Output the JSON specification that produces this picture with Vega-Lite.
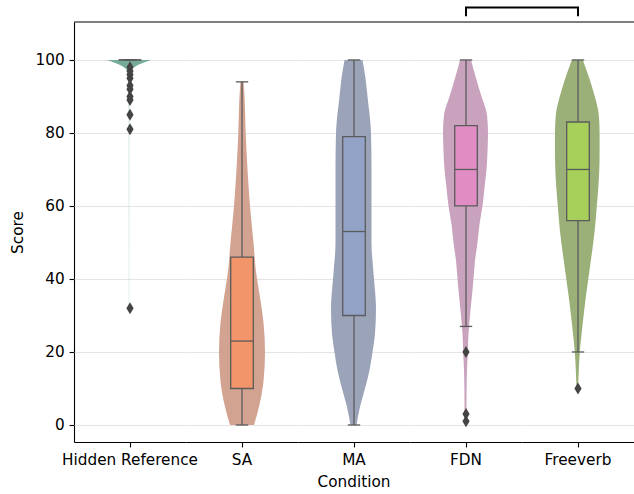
{
  "$schema": "https://vega.github.io/schema/vega-lite/v6.json",
  "padding": {"left": 10, "top": 6, "right": 0, "bottom": 3},
  "bounds": "flush",
  "config": {
    "font": "DejaVu Sans",
    "view": {"stroke": null},
    "axis": {"labelFont": "DejaVu Sans", "titleFont": "DejaVu Sans", "labelFontSize": 15.28, "titleFontSize": 15.28, "labelColor": "#000000", "titleColor": "#000000", "titleFontWeight": "normal", "tickColor": "#000000", "domainColor": "#000000", "tickSize": 4.9, "tickWidth": 1.1, "domainWidth": 1.1},
    "header": {"labelFont": "DejaVu Sans", "titleFont": "DejaVu Sans", "labelFontSize": 15.28, "titleFontSize": 15.28, "labelColor": "#000000", "titleColor": "#000000", "titleFontWeight": "normal"}
  },
  "data": {"values": [
    {"kind": "violin", "Condition": "Hidden Reference", "Score": 100, "Width": 44},
    {"kind": "violin", "Condition": "Hidden Reference", "Score": 99.3, "Width": 30},
    {"kind": "violin", "Condition": "Hidden Reference", "Score": 98.5, "Width": 16},
    {"kind": "violin", "Condition": "Hidden Reference", "Score": 97.5, "Width": 6},
    {"kind": "violin", "Condition": "Hidden Reference", "Score": 96, "Width": 1.5},
    {"kind": "violin", "Condition": "Hidden Reference", "Score": 90, "Width": 0.5},
    {"kind": "violin", "Condition": "Hidden Reference", "Score": 80, "Width": 0.3},
    {"kind": "violin", "Condition": "Hidden Reference", "Score": 32, "Width": 0.2},

    {"kind": "violin", "Condition": "SA", "Score": 94, "Width": 3},
    {"kind": "violin", "Condition": "SA", "Score": 90, "Width": 5},
    {"kind": "violin", "Condition": "SA", "Score": 80, "Width": 7.4},
    {"kind": "violin", "Condition": "SA", "Score": 70, "Width": 11},
    {"kind": "violin", "Condition": "SA", "Score": 60, "Width": 16},
    {"kind": "violin", "Condition": "SA", "Score": 50, "Width": 23},
    {"kind": "violin", "Condition": "SA", "Score": 42, "Width": 28},
    {"kind": "violin", "Condition": "SA", "Score": 35, "Width": 36},
    {"kind": "violin", "Condition": "SA", "Score": 28, "Width": 43},
    {"kind": "violin", "Condition": "SA", "Score": 20, "Width": 46},
    {"kind": "violin", "Condition": "SA", "Score": 12, "Width": 43},
    {"kind": "violin", "Condition": "SA", "Score": 5, "Width": 34},
    {"kind": "violin", "Condition": "SA", "Score": 0, "Width": 24},

    {"kind": "violin", "Condition": "MA", "Score": 100, "Width": 18},
    {"kind": "violin", "Condition": "MA", "Score": 95, "Width": 24},
    {"kind": "violin", "Condition": "MA", "Score": 90, "Width": 28},
    {"kind": "violin", "Condition": "MA", "Score": 80, "Width": 35},
    {"kind": "violin", "Condition": "MA", "Score": 70, "Width": 36},
    {"kind": "violin", "Condition": "MA", "Score": 60, "Width": 36},
    {"kind": "violin", "Condition": "MA", "Score": 50, "Width": 36},
    {"kind": "violin", "Condition": "MA", "Score": 40, "Width": 41},
    {"kind": "violin", "Condition": "MA", "Score": 32, "Width": 45},
    {"kind": "violin", "Condition": "MA", "Score": 25, "Width": 43},
    {"kind": "violin", "Condition": "MA", "Score": 20, "Width": 38},
    {"kind": "violin", "Condition": "MA", "Score": 15, "Width": 32},
    {"kind": "violin", "Condition": "MA", "Score": 10, "Width": 23},
    {"kind": "violin", "Condition": "MA", "Score": 5, "Width": 13},
    {"kind": "violin", "Condition": "MA", "Score": 0, "Width": 6},

    {"kind": "violin", "Condition": "FDN", "Score": 100, "Width": 11},
    {"kind": "violin", "Condition": "FDN", "Score": 95, "Width": 21},
    {"kind": "violin", "Condition": "FDN", "Score": 90, "Width": 32},
    {"kind": "violin", "Condition": "FDN", "Score": 85, "Width": 43},
    {"kind": "violin", "Condition": "FDN", "Score": 80, "Width": 45},
    {"kind": "violin", "Condition": "FDN", "Score": 75, "Width": 44},
    {"kind": "violin", "Condition": "FDN", "Score": 70, "Width": 42},
    {"kind": "violin", "Condition": "FDN", "Score": 65, "Width": 38},
    {"kind": "violin", "Condition": "FDN", "Score": 60, "Width": 34},
    {"kind": "violin", "Condition": "FDN", "Score": 55, "Width": 28},
    {"kind": "violin", "Condition": "FDN", "Score": 50, "Width": 24},
    {"kind": "violin", "Condition": "FDN", "Score": 45, "Width": 19},
    {"kind": "violin", "Condition": "FDN", "Score": 40, "Width": 16},
    {"kind": "violin", "Condition": "FDN", "Score": 35, "Width": 12.6},
    {"kind": "violin", "Condition": "FDN", "Score": 30, "Width": 9},
    {"kind": "violin", "Condition": "FDN", "Score": 25, "Width": 6},
    {"kind": "violin", "Condition": "FDN", "Score": 20, "Width": 4.6},
    {"kind": "violin", "Condition": "FDN", "Score": 15, "Width": 3},
    {"kind": "violin", "Condition": "FDN", "Score": 10, "Width": 2.2},
    {"kind": "violin", "Condition": "FDN", "Score": 5, "Width": 2},
    {"kind": "violin", "Condition": "FDN", "Score": 1, "Width": 2},

    {"kind": "violin", "Condition": "Freeverb", "Score": 100, "Width": 11},
    {"kind": "violin", "Condition": "Freeverb", "Score": 95, "Width": 24},
    {"kind": "violin", "Condition": "Freeverb", "Score": 90, "Width": 35},
    {"kind": "violin", "Condition": "Freeverb", "Score": 85, "Width": 43},
    {"kind": "violin", "Condition": "Freeverb", "Score": 80, "Width": 44.6},
    {"kind": "violin", "Condition": "Freeverb", "Score": 75, "Width": 44.6},
    {"kind": "violin", "Condition": "Freeverb", "Score": 70, "Width": 44},
    {"kind": "violin", "Condition": "Freeverb", "Score": 65, "Width": 42},
    {"kind": "violin", "Condition": "Freeverb", "Score": 60, "Width": 39},
    {"kind": "violin", "Condition": "Freeverb", "Score": 55, "Width": 36},
    {"kind": "violin", "Condition": "Freeverb", "Score": 50, "Width": 32},
    {"kind": "violin", "Condition": "Freeverb", "Score": 45, "Width": 27},
    {"kind": "violin", "Condition": "Freeverb", "Score": 40, "Width": 22},
    {"kind": "violin", "Condition": "Freeverb", "Score": 35, "Width": 17},
    {"kind": "violin", "Condition": "Freeverb", "Score": 30, "Width": 12.6},
    {"kind": "violin", "Condition": "Freeverb", "Score": 25, "Width": 8.6},
    {"kind": "violin", "Condition": "Freeverb", "Score": 20, "Width": 5},
    {"kind": "violin", "Condition": "Freeverb", "Score": 15, "Width": 3},
    {"kind": "violin", "Condition": "Freeverb", "Score": 10, "Width": 1.6},

    {"kind": "box", "Condition": "Hidden Reference", "Q1": 100, "Median": 100, "Q3": 100, "Low": 100, "High": 100},
    {"kind": "box", "Condition": "SA", "Q1": 10, "Median": 23, "Q3": 46, "Low": 0, "High": 94},
    {"kind": "box", "Condition": "MA", "Q1": 30, "Median": 53, "Q3": 79, "Low": 0, "High": 100},
    {"kind": "box", "Condition": "FDN", "Q1": 60, "Median": 70, "Q3": 82, "Low": 27, "High": 100},
    {"kind": "box", "Condition": "Freeverb", "Q1": 56, "Median": 70, "Q3": 83, "Low": 20, "High": 100},

    {"kind": "outlier", "Condition": "Hidden Reference", "Score": 98},
    {"kind": "outlier", "Condition": "Hidden Reference", "Score": 97},
    {"kind": "outlier", "Condition": "Hidden Reference", "Score": 96},
    {"kind": "outlier", "Condition": "Hidden Reference", "Score": 95},
    {"kind": "outlier", "Condition": "Hidden Reference", "Score": 93},
    {"kind": "outlier", "Condition": "Hidden Reference", "Score": 92},
    {"kind": "outlier", "Condition": "Hidden Reference", "Score": 90},
    {"kind": "outlier", "Condition": "Hidden Reference", "Score": 89},
    {"kind": "outlier", "Condition": "Hidden Reference", "Score": 85},
    {"kind": "outlier", "Condition": "Hidden Reference", "Score": 81},
    {"kind": "outlier", "Condition": "Hidden Reference", "Score": 32},
    {"kind": "outlier", "Condition": "FDN", "Score": 20},
    {"kind": "outlier", "Condition": "FDN", "Score": 3},
    {"kind": "outlier", "Condition": "FDN", "Score": 1},
    {"kind": "outlier", "Condition": "Freeverb", "Score": 10}
  ]},
  "facet": {
    "column": {
      "field": "Condition", "type": "nominal",
      "sort": ["Hidden Reference", "SA", "MA", "FDN", "Freeverb"],
      "header": {"labelOrient": "bottom", "titleOrient": "bottom", "title": "Condition", "labelPadding": 6, "titlePadding": -4}
    }
  },
  "spacing": 0,
  "spec": {
    "width": 112,
    "height": 420,
    "layer": [
      {
        "transform": [{"filter": "datum.kind == 'violin'"}],
        "mark": {"type": "area", "orient": "horizontal", "interpolate": "monotone"},
        "encoding": {
          "y": {"field": "Score", "type": "quantitative", "scale": {"domain": [-4.66, 110.4], "nice": false, "zero": false},
                "axis": {"title": "Score", "values": [0, 20, 40, 60, 80, 100], "grid": true, "gridColor": "#dddddd", "gridWidth": 0.8, "labelPadding": 4.9, "titlePadding": 9.7}},
          "x": {"field": "Width", "type": "quantitative", "stack": "center", "scale": {"domain": [-33, 79], "nice": false, "zero": false},
                "axis": {"title": null, "labels": false, "values": [23], "grid": false}},
          "fill": {"field": "Condition", "type": "nominal", "legend": null,
                   "scale": {"domain": ["Hidden Reference", "SA", "MA", "FDN", "Freeverb"], "range": ["#74ac98", "#d2a391", "#9ba3b9", "#c9a3bd", "#9bb078"]}}
        }
      },
      {
        "transform": [{"filter": "datum.kind == 'box'"}],
        "mark": {"type": "rule", "color": "#5b5b5b", "strokeWidth": 1.3},
        "encoding": {
          "x": {"datum": 23, "type": "quantitative"},
          "y": {"field": "Low", "type": "quantitative"},
          "y2": {"field": "High"}
        }
      },
      {
        "transform": [{"filter": "datum.kind == 'box'"}],
        "mark": {"type": "rect", "stroke": "#5b5b5b", "strokeWidth": 1.3},
        "encoding": {
          "x": {"datum": 11.7, "type": "quantitative"},
          "x2": {"datum": 34.3},
          "y": {"field": "Q1", "type": "quantitative"},
          "y2": {"field": "Q3"},
          "color": {"field": "Condition", "type": "nominal", "legend": null,
                    "scale": {"domain": ["Hidden Reference", "SA", "MA", "FDN", "Freeverb"], "range": ["#6bbb9f", "#f2956b", "#93a3c8", "#df8dc3", "#a6d05a"]}}
        }
      },
      {
        "transform": [{"filter": "datum.kind == 'box'"}],
        "mark": {"type": "rule", "color": "#5b5b5b", "strokeWidth": 1.3},
        "encoding": {
          "x": {"datum": 11.7, "type": "quantitative"},
          "x2": {"datum": 34.3},
          "y": {"field": "Median", "type": "quantitative"}
        }
      },
      {
        "transform": [{"filter": "datum.kind == 'box'"}],
        "mark": {"type": "rule", "color": "#5b5b5b", "strokeWidth": 1.3},
        "encoding": {
          "x": {"datum": 16.8, "type": "quantitative"},
          "x2": {"datum": 29.2},
          "y": {"field": "Low", "type": "quantitative"}
        }
      },
      {
        "transform": [{"filter": "datum.kind == 'box'"}],
        "mark": {"type": "rule", "color": "#5b5b5b", "strokeWidth": 1.3},
        "encoding": {
          "x": {"datum": 16.8, "type": "quantitative"},
          "x2": {"datum": 29.2},
          "y": {"field": "High", "type": "quantitative"}
        }
      },
      {
        "transform": [{"filter": "datum.kind == 'outlier'"}],
        "mark": {"type": "point", "shape": "M0,-1L0.6,0L0,1L-0.6,0Z", "filled": true, "color": "#444444", "opacity": 1, "size": 144},
        "encoding": {
          "x": {"datum": 23, "type": "quantitative"},
          "y": {"field": "Score", "type": "quantitative"}
        }
      },
      {
        "transform": [{"filter": "datum.kind == 'box'"}],
        "mark": {"type": "rule", "color": "#000000", "strokeWidth": 1.1},
        "encoding": {
          "y": {"datum": 110.4, "type": "quantitative"}
        }
      },
      {
        "transform": [{"filter": "datum.kind == 'box' && datum.Condition == 'FDN'"}],
        "mark": {"type": "rule", "color": "#000000", "strokeWidth": 2},
        "encoding": {
          "x": {"datum": 22, "type": "quantitative"},
          "x2": {"datum": 79},
          "y": {"datum": 114.4, "type": "quantitative"}
        }
      },
      {
        "transform": [{"filter": "datum.kind == 'box' && datum.Condition == 'Freeverb'"}],
        "mark": {"type": "rule", "color": "#000000", "strokeWidth": 2},
        "encoding": {
          "x": {"datum": -33, "type": "quantitative"},
          "x2": {"datum": 24},
          "y": {"datum": 114.4, "type": "quantitative"}
        }
      },
      {
        "transform": [{"filter": "datum.kind == 'box' && (datum.Condition == 'FDN' || datum.Condition == 'Freeverb')"}],
        "mark": {"type": "rule", "color": "#000000", "strokeWidth": 2},
        "encoding": {
          "x": {"datum": 23, "type": "quantitative"},
          "y": {"datum": 112.0, "type": "quantitative"},
          "y2": {"datum": 114.4}
        }
      }
    ]
  }
}
